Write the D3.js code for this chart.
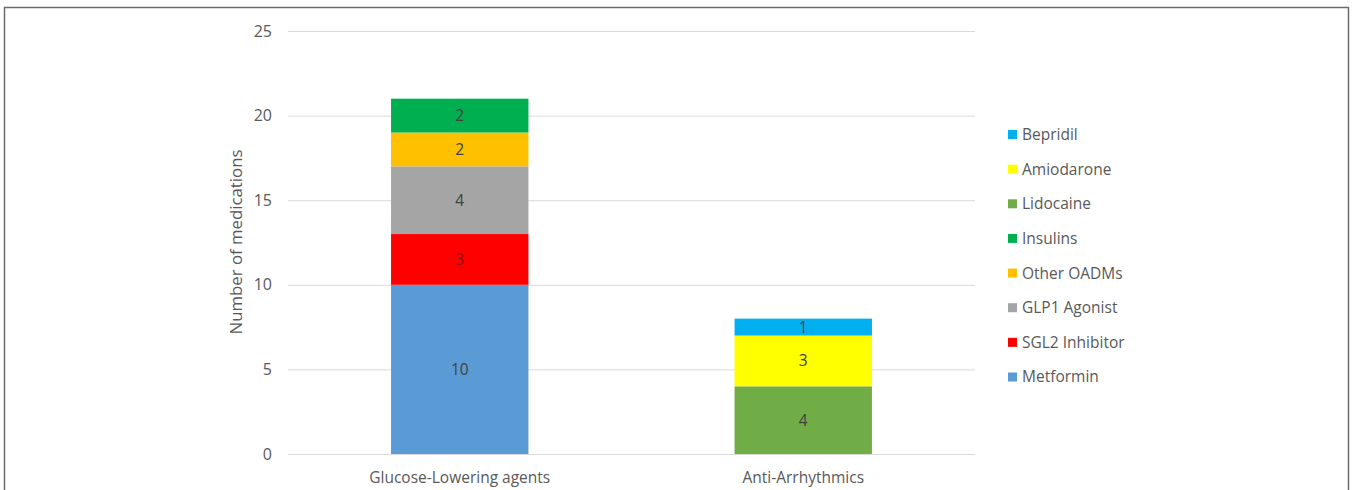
<!DOCTYPE html>
<html><head><meta charset="utf-8">
<script src="https://cdn.jsdelivr.net/npm/d3@7"></script>
<style>
html,body{margin:0;padding:0;background:#fff;}
svg{display:block;font-family:"Open Sans",sans-serif;}
</style></head>
<body><svg id="c" width="1352" height="490"></svg>
<script>
const categories = ["Glucose-Lowering agents", "Anti-Arrhythmics"];
const seriesNames = ["Metformin", "SGL2 Inhibitor", "GLP1 Agonist", "Other OADMs", "Insulins", "Lidocaine", "Amiodarone", "Bepridil"];
const metformin   = [10, 0];
const sgl2        = [3, 0];
const glp1        = [4, 0];
const otherOADMs  = [2, 0];
const insulins    = [2, 0];
const lidocaine   = [0, 4];
const amiodarone  = [0, 3];
const bepridil    = [0, 1];
const seriesColors = ["#5B9BD5", "#FF0000", "#A5A5A5", "#FFC000", "#00B050", "#70AD47", "#FFFF00", "#00B0F0"];
const yTicks = [0, 5, 10, 15, 20, 25];
const yTitle = "Number of medications";

const seriesValues = [metformin, sgl2, glp1, otherOADMs, insulins, lidocaine, amiodarone, bepridil];
const rows = categories.map((c, i) => {
  const r = {cat: c};
  seriesNames.forEach((s, j) => r[s] = seriesValues[j][i]);
  return r;
});

const svg = d3.select("#c");
// outer frame
svg.append("rect").attr("x", 4.5).attr("y", 7.5).attr("width", 1344).attr("height", 500)
  .attr("fill", "none").attr("stroke", "#6b6b6b").attr("stroke-width", 1.5);

const x = d3.scaleBand().domain(categories).range([288, 975]).paddingInner(0.6).paddingOuter(0.3);
const y = d3.scaleLinear().domain([0, 25]).range([454, 31]);

// gridlines
svg.append("g").selectAll("line").data(yTicks).join("line")
  .attr("x1", 288).attr("x2", 975)
  .attr("y1", d => y(d) + 0.5).attr("y2", d => y(d) + 0.5)
  .attr("stroke", "#d9d9d9").attr("stroke-width", 1);

// y axis labels
const yAxis = d3.axisLeft(y).tickValues(yTicks).tickSize(0).tickPadding(0);
const yg = svg.append("g").attr("transform", "translate(272,0)").call(yAxis);
yg.select(".domain").remove();
yg.selectAll("text").attr("font-size", 16).attr("fill", "#595959")
  .attr("font-family", "Open Sans, sans-serif");

// x axis labels
const xAxis = d3.axisBottom(x).tickSize(0).tickPadding(0);
const xg = svg.append("g").attr("transform", "translate(0,472)").call(xAxis);
xg.select(".domain").remove();
xg.selectAll("text").attr("font-size", 15.5).attr("fill", "#595959")
  .attr("font-family", "Open Sans, sans-serif");

// y title
svg.append("text").attr("transform", "translate(242,242) rotate(-90)")
  .attr("text-anchor", "middle").attr("font-size", 16.8).attr("fill", "#595959")
  .text(yTitle);

// stacks
const stack = d3.stack().keys(seriesNames)(rows);
const color = d3.scaleOrdinal().domain(seriesNames).range(seriesColors);
const layers = svg.append("g").selectAll("g").data(stack).join("g")
  .attr("fill", d => color(d.key));
layers.selectAll("rect").data(d => d.filter(p => p[1] - p[0] > 0)).join("rect")
  .attr("x", d => x(d.data.cat))
  .attr("width", x.bandwidth())
  .attr("y", d => y(d[1]))
  .attr("height", d => y(d[0]) - y(d[1]));

// data labels
const labels = svg.append("g");
stack.forEach(layer => {
  layer.filter(p => p[1] - p[0] > 0).forEach(p => {
    labels.append("text")
      .attr("x", x(p.data.cat) + x.bandwidth() / 2)
      .attr("y", (y(p[0]) + y(p[1])) / 2)
      .attr("dy", "0.35em")
      .attr("text-anchor", "middle")
      .attr("font-size", 15.5)
      .attr("fill", layer.key === "SGL2 Inhibitor" ? "#8a1a1a" : "#404040")
      .text(p[1] - p[0]);
  });
});

// legend (reverse order, top = Bepridil)
const legendNames = seriesNames.slice().reverse();
const ly = d3.scalePoint().domain(legendNames).range([134.5, 377]);
const lg = svg.append("g").selectAll("g").data(legendNames).join("g")
  .attr("transform", d => `translate(1008,${ly(d)})`);
lg.append("rect").attr("x", 0).attr("y", -4.5).attr("width", 9).attr("height", 9)
  .attr("fill", d => color(d));
lg.append("text").attr("x", 14).attr("dy", "0.35em").attr("font-size", 15.5)
  .attr("fill", "#595959").text(d => d);
</script></body></html>
